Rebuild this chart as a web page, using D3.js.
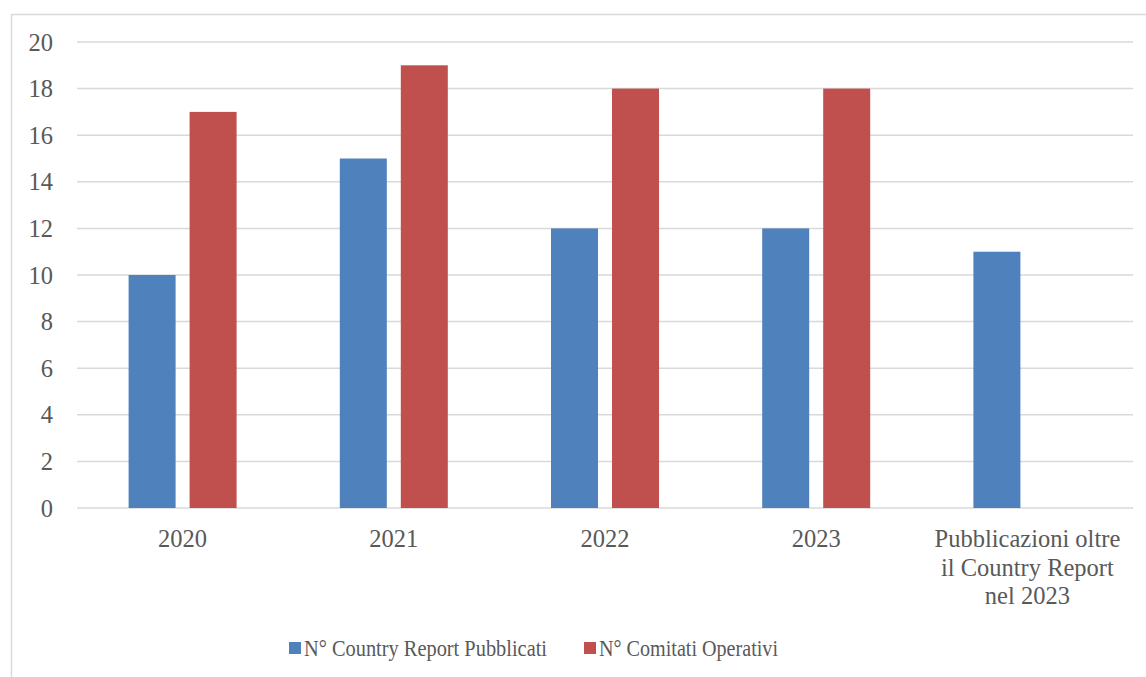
<!DOCTYPE html>
<html><head><meta charset="utf-8">
<script src="https://cdn.jsdelivr.net/npm/d3@7"></script>
<style>body{margin:0;background:#fff}svg{display:block}</style>
</head><body>
<svg id="c" width="1146" height="677"></svg>
<script>
const categories = [["2020"],["2021"],["2022"],["2023"],["Pubblicazioni oltre","il Country Report","nel 2023"]];
const seriesNames = ["N° Country Report Pubblicati","N° Comitati Operativi"];
const reportValues = [10,15,12,12,11];
const comitatiValues = [17,19,18,18,null];
const yTicks = [0,2,4,6,8,10,12,14,16,18,20];
const colors = ["#4F81BD","#C0504D"];

(function(){
const svg = d3.select("#c");
const font = "'Liberation Serif', serif";
const fs = 24.5;
const textColor = "#595959";
svg.append("rect").attr("x",11.5).attr("y",14.5).attr("width",1140).attr("height",700)
  .attr("fill","none").attr("stroke","#D9D9D9").attr("stroke-width",1.5);

const pl=77,pr=1133,pt=42,pb=508;
const x = d3.scaleBand().domain(d3.range(categories.length)).range([pl,pr]);
const y = d3.scaleLinear().domain([0,20]).range([pb,pt]);

const grid = svg.append("g");
grid.selectAll("line").data(yTicks).join("line")
  .attr("x1",pl).attr("x2",pr).attr("y1",d=>y(d)).attr("y2",d=>y(d))
  .attr("stroke","#D9D9D9").attr("stroke-width",1.5);

const yAxis = d3.axisLeft(y).tickValues(yTicks).tickSize(0).tickPadding(0);
const ga = svg.append("g").attr("transform","translate(53,0)").call(yAxis);
ga.select(".domain").remove();
ga.selectAll("text").attr("font-family",font).attr("font-size",fs).attr("fill",textColor).attr("dy","0.33em");

const barW = 47, gap = 14;
const series = [reportValues, comitatiValues];
series.forEach((vals,si)=>{
  svg.append("g").selectAll("rect").data(vals.map((v,i)=>({v,i})).filter(d=>d.v!=null)).join("rect")
    .attr("x",d=>x(d.i)+x.bandwidth()/2 + (si===0 ? -gap/2-barW : gap/2))
    .attr("width",barW)
    .attr("y",d=>y(d.v)).attr("height",d=>pb-y(d.v))
    .attr("fill",colors[si]);
});

const xl = svg.append("g");
categories.forEach((lines,i)=>{
  const t = xl.append("text").attr("text-anchor","middle").attr("font-family",font).attr("font-size",fs).attr("fill",textColor);
  lines.forEach((ln,j)=>{
    t.append("tspan").attr("x",x(i)+x.bandwidth()/2).attr("y",547+j*28.5).text(ln);
  });
});

const legX = [289,584];
const legW = [243,179];
seriesNames.forEach((n,i)=>{
  svg.append("rect").attr("x",legX[i]).attr("y",642).attr("width",12).attr("height",12).attr("fill",colors[i]);
  svg.append("text").attr("x",legX[i]+15).attr("y",656).attr("font-family",font).attr("font-size",23)
    .attr("textLength",legW[i]).attr("lengthAdjust","spacingAndGlyphs")
    .attr("fill",textColor).text(n);
});
})();
</script>
</body></html>
